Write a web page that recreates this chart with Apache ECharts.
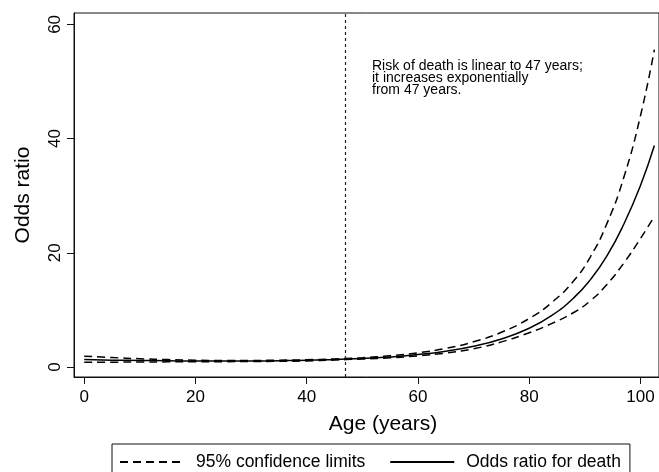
<!DOCTYPE html>
<html>
<head>
<meta charset="utf-8">
<script src="https://cdn.jsdelivr.net/npm/echarts@6/dist/echarts.min.js"></script>
<style>
html,body{margin:0;padding:0;background:#fff;}
#chart{width:659px;height:472px;}
</style>
</head>
<body>
<div id="chart"></div>
<script>
const ages = [0,5,10,15,20,25,30,35,40,45,47,50,55,60,65,70,75,80,84,88,91,94,97,100,102.5];
const oddsRatio = [1.3,1.2,1.15,1.1,1.05,1.05,1.05,1.1,1.17,1.32,1.4,1.51,1.77,2.18,2.78,3.64,4.91,6.79,8.99,12.1,15.3,19.5,25.0,31.8,38.8];
const upperCI = [1.9,1.65,1.45,1.3,1.2,1.15,1.15,1.2,1.27,1.42,1.5,1.64,1.98,2.5,3.27,4.42,6.08,8.5,11.25,15.1,19.3,25.2,33.2,44.0,55.6];
const lowerCI = [0.85,0.85,0.88,0.9,0.92,0.94,0.96,1.0,1.07,1.22,1.3,1.4,1.62,1.95,2.45,3.2,4.4,6.0,7.6,9.55,11.6,14.5,18.2,22.5,26.4];
const xTicks = [0,20,40,60,80,100];
const yTicks = [0,20,40,60];
const thresholdAge = 47;
const ciName = '95% confidence limits';
const orName = 'Odds ratio for death';
const xTitle = 'Age (years)';
const yTitle = 'Odds ratio';
const note = 'Risk of death is linear to 47 years;\nit increases exponentially\nfrom 47 years.';

const FONT = '"Liberation Sans", Arial, Helvetica, sans-serif';
const pairs = (ys) => ages.map((a, i) => [a, ys[i]]);

const chart = echarts.init(document.getElementById('chart'), null, {renderer: 'canvas'});
chart.setOption({
  animation: false,
  backgroundColor: '#fff',
  textStyle: {fontFamily: FONT, color: '#000'},
  grid: {left: 74, top: 13, right: -5, bottom: 95, show: true, borderColor: '#111', borderWidth: 1, containLabel: false},
  xAxis: {
    type: 'value', min: -1.84, max: 103.33,
    name: xTitle, nameLocation: 'middle', nameGap: 37,
    nameTextStyle: {fontFamily: FONT, fontSize: 21, color: '#000', padding: [0, 0, 0, 33]},
    axisLine: {show: true, onZero: false, lineStyle: {color: '#111', width: 1}},
    axisTick: {show: true, length: 7, customValues: xTicks, lineStyle: {color: '#111'}},
    axisLabel: {customValues: xTicks, margin: 12, fontSize: 17, color: '#000', fontFamily: FONT},
    splitLine: {show: false}
  },
  yAxis: {
    type: 'value', min: -1.75, max: 62,
    name: yTitle, nameLocation: 'middle', nameGap: 40, nameRotate: 90,
    nameTextStyle: {fontFamily: FONT, fontSize: 21, color: '#000'},
    axisLine: {show: true, onZero: false, lineStyle: {color: '#111', width: 1}},
    axisTick: {show: true, length: 7, customValues: yTicks, lineStyle: {color: '#111'}},
    axisLabel: {customValues: yTicks, rotate: 90, margin: 10, fontSize: 17, color: '#000', fontFamily: FONT},
    splitLine: {show: false}
  },
  legend: {
    data: [ciName, orName],
    left: 112, top: 444,
    orient: 'horizontal',
    borderColor: '#111', borderWidth: 1,
    padding: [9, 9, 12, 7],
    itemWidth: 64, itemHeight: 14, itemGap: 24,
    itemStyle: {opacity: 0},
    textStyle: {fontFamily: FONT, fontSize: 17.5, color: '#000', padding: [0, 0, 0, 7]}
  },
  graphic: [{
    type: 'text', left: 372, top: 59,
    style: {text: note, font: '14px ' + FONT, fill: '#000', lineHeight: 12}
  }],
  series: [
    {name: ciName, type: 'line', data: pairs(upperCI), showSymbol: false, symbol: 'none', smooth: 0.5,
     lineStyle: {color: '#000', width: 1.5, type: [8, 5]}, itemStyle: {color: '#000'},
     markLine: {silent: true, symbol: 'none', label: {show: false},
       lineStyle: {color: '#222', width: 1.2, type: [3, 3]}, data: [{xAxis: thresholdAge}]}},
    {name: orName, type: 'line', data: pairs(oddsRatio), showSymbol: false, symbol: 'none', smooth: 0.5,
     lineStyle: {color: '#000', width: 1.5, type: 'solid'}, itemStyle: {color: '#000'}},
    {name: ciName, type: 'line', data: pairs(lowerCI), showSymbol: false, symbol: 'none', smooth: 0.5,
     lineStyle: {color: '#000', width: 1.5, type: [8, 5]}, itemStyle: {color: '#000'}}
  ]
});
</script>
</body>
</html>
